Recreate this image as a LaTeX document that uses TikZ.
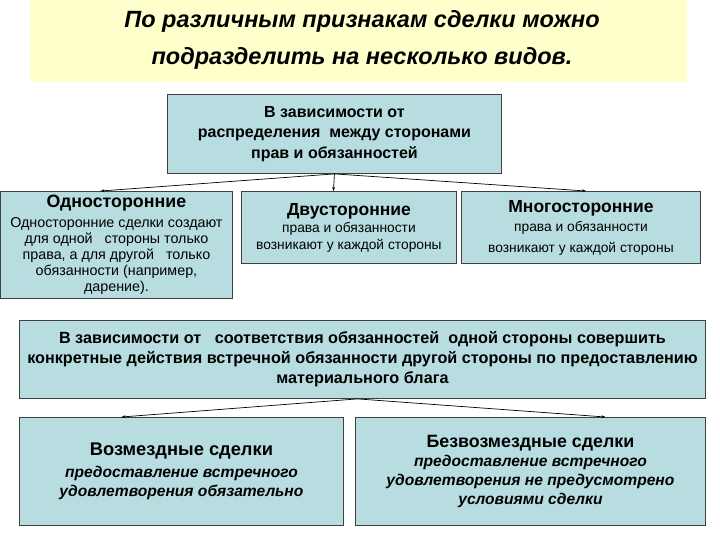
\documentclass[tikz,border=0pt]{standalone}
\usepackage{fontspec}
\setmainfont{Liberation Sans}
\usetikzlibrary{arrows.meta}
\definecolor{banner}{RGB}{255,255,204}
\definecolor{boxfill}{RGB}{183,221,224}
\definecolor{boxline}{RGB}{64,64,64}
\newcommand{\fs}[2]{\fontsize{#1}{#2}\selectfont}
\begin{document}
\begin{tikzpicture}[x=1pt, y=-1pt,
    kind/.style={draw=boxline, fill=boxfill, line width=0.9pt, anchor=north west,
      inner sep=0pt, align=center},
    link/.style={-{Stealth[length=4pt,width=3pt]}, line width=0.7pt}]
  \useasboundingbox (0,0) rectangle (720,540);
  % banner with the title
  \fill[banner] (30,0) rectangle (687,82);
  \node[align=center, font=\fs{23.5}{37}\bfseries\itshape] (title) at (362,40)
    {По различным признакам сделки можно\\подразделить на несколько видов.};
  % first division
  \node[kind, minimum width=334, minimum height=79, font=\fs{16}{20.5}\bfseries]
    (parts) at (167,94)
    {В зависимости от\\распределения\ \ между сторонами\\прав и обязанностей};
  \node[kind, minimum width=232, minimum height=107, font=\fs{14.3}{16}] (one) at (0,191)
    {{\fs{17.8}{19}\bfseries Односторонние}\\[4pt]
     Односторонние сделки создают\\для одной\ \ \ стороны только\\
     права, а для другой\ \ \ только\\обязанности (например,\\дарение).};
  \node[kind, minimum width=215, minimum height=72, font=\fs{13.8}{17}] (two) at (241,191)
    {{\fs{17.5}{19}\bfseries Двусторонние}\\
     права и обязанности\\возникают у каждой стороны};
  \node[kind, minimum width=239, minimum height=72, font=\fs{13.8}{21}] (many) at (461,191)
    {{\fs{17.5}{19}\bfseries Многосторонние}\\[-2pt]
     права и обязанности\\возникают у каждой стороны};
  \draw[link] (parts.south) -- ([xshift=-16pt]one.north);
  \draw[link] (parts.south) -- ([xshift=-15.5pt]two.north);
  \draw[link] (parts.south) -- ([xshift=5pt]many.north);
  % second division
  \node[kind, minimum width=686, minimum height=78, font=\fs{16.2}{20}\bfseries]
    (duty) at (19,320)
    {В зависимости от\ \ \ соответствия обязанностей\ \ одной стороны совершить\\
     конкретные действия встречной обязанности другой стороны по предоставлению\\
     материального блага};
  \node[kind, minimum width=324, minimum height=108, font=\fs{15.6}{19}\bfseries\itshape]
    (paid) at (19,417)
    {{\fs{18.3}{22}\upshape Возмездные сделки}\\[3pt]
     предоставление встречного\\удовлетворения обязательно};
  \node[kind, minimum width=350, minimum height=108, font=\fs{15.6}{19.3}\bfseries\itshape]
    (free) at (355,417)
    {{\fs{17.8}{19}\upshape Безвозмездные сделки}\\
     предоставление встречного\\удовлетворения не предусмотрено\\условиями сделки};
  \draw[link] ([xshift=-5pt]duty.south) -- ([xshift=-60pt]paid.north);
  \draw[link] ([xshift=-5pt]duty.south) -- ([xshift=75pt]free.north);
\end{tikzpicture}
\end{document}
